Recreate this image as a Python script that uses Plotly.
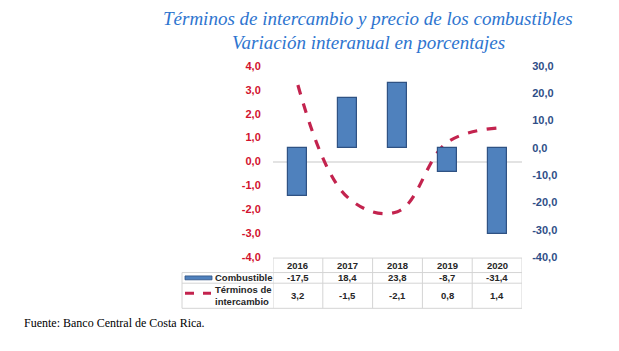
import plotly.graph_objects as go

# ---- data ----
years = ["2016", "2017", "2018", "2019", "2020"]
combustible = [-17.5, 18.4, 23.8, -8.7, -31.4]
terminos = [3.2, -1.5, -2.1, 0.8, 1.4]
series_names = ["Combustible", "Términos de<br>intercambio"]
left_ticks = [-4, -3, -2, -1, 0, 1, 2, 3, 4]
right_ticks = [-40, -30, -20, -10, 0, 10, 20, 30]
title_lines = ["Términos de intercambio y precio de los combustibles",
               "Variación interanual en porcentajes"]
source = "Fuente: Banco Central de Costa Rica."

W, H = 619, 351


def px(x):
    return x / W


def py(y):
    return 1 - y / H


def fmt(v):
    return f"{v:.1f}".replace(".", ",")


BLUE = "#4F81BD"
RED = "#C3234E"
GRAY = "#D4D4D4"
TXT = "#262626"

fig = go.Figure()
fig.add_trace(go.Bar(x=years, y=combustible, yaxis="y2", width=0.38,
                     marker=dict(color=BLUE, line=dict(color="#2F5283", width=1.2)),
                     name="Combustible"))
fig.add_trace(go.Scatter(x=years, y=terminos, yaxis="y", mode="lines",
                         line=dict(color=RED, width=3.2, dash="dash",
                                   shape="spline", smoothing=1.1),
                         name="Términos de intercambio"))

annotations = []
shapes = []

# title
for i, t in enumerate(title_lines):
    annotations.append(dict(text=t, x=px(368), y=py(13 + 25 * i), xref="paper", yref="paper",
                            showarrow=False, xanchor="center", yanchor="middle",
                            font=dict(family="Liberation Serif", size=19, color="#2E75CF",
                                      style="italic")))

# footer
annotations.append(dict(text=source, x=px(22), y=py(328), xref="paper", yref="paper",
                        showarrow=False, xanchor="left", yanchor="middle",
                        font=dict(family="Liberation Serif", size=12, color="#000000")))

# table
tfont = dict(family="Liberation Sans", size=9.5, color=TXT, weight="bold")
y_top, y_h, y_r1, y_bot = 261, 276, 287, 313
for i, yr in enumerate(years):
    for txt, yy in ((yr, 268.5), (fmt(combustible[i]), 281.5), (fmt(terminos[i]), 300)):
        annotations.append(dict(text=txt, x=i, y=py(yy), xref="x", yref="paper",
                                showarrow=False, xanchor="center", yanchor="middle", font=tfont))
annotations.append(dict(text=series_names[0], x=px(213), y=py(281.5), xref="paper", yref="paper",
                        showarrow=False, xanchor="left", yanchor="middle", font=tfont))
annotations.append(dict(text=series_names[1], x=px(213), y=py(300), xref="paper", yref="paper",
                        showarrow=False, xanchor="left", yanchor="middle", align="left", font=tfont))

line_style = dict(color=GRAY, width=1)
# horizontal lines
shapes.append(dict(type="line", xref="x", yref="paper", x0=-0.5, x1=4.5, y0=py(y_top), y1=py(y_top), line=line_style))
for yy in (y_h, y_r1, y_bot):
    shapes.append(dict(type="line", xref="paper", yref="paper", x0=px(182), x1=px(522),
                       y0=py(yy), y1=py(yy), line=line_style))
# vertical lines
for k in range(len(years) + 1):
    shapes.append(dict(type="line", xref="x", yref="paper", x0=k - 0.5, x1=k - 0.5,
                       y0=py(y_top), y1=py(y_bot), line=line_style))
shapes.append(dict(type="line", xref="paper", yref="paper", x0=px(182), x1=px(182),
                   y0=py(y_h), y1=py(y_bot), line=line_style))
# legend keys
shapes.append(dict(type="rect", xref="paper", yref="paper", x0=px(185), x1=px(212),
                   y0=py(283.5), y1=py(279.5), fillcolor=BLUE,
                   line=dict(color="#2F5283", width=0.8)))
shapes.append(dict(type="line", xref="paper", yref="paper", x0=px(185), x1=px(211),
                   y0=py(297.5), y1=py(297.5), line=dict(color=RED, width=3, dash="dash")))

fig.update_layout(
    width=W, height=H,
    margin=dict(l=0, r=0, t=0, b=0),
    paper_bgcolor="white", plot_bgcolor="white",
    showlegend=False, bargap=0,
    xaxis=dict(domain=[px(273), px(522)], type="category", range=[-0.5, 4.5],
               showticklabels=False, showgrid=False, zeroline=False, showline=False, ticks=""),
    yaxis=dict(domain=[py(260), py(62)], range=[-4, 4], tickvals=left_ticks,
               ticktext=[fmt(v) for v in left_ticks], showgrid=False,
               zeroline=True, zerolinecolor="#E3E3E3", zerolinewidth=1.5,
               ticks="outside", ticklen=9, tickcolor="rgba(0,0,0,0)",
               tickfont=dict(family="Liberation Sans", size=11, color="#D2122E", weight="bold")),
    yaxis2=dict(overlaying="y", side="right", anchor="x", range=[-40, 30], tickvals=right_ticks,
                ticktext=[fmt(v) for v in right_ticks], showgrid=False, zeroline=False,
                ticks="outside", ticklen=7, tickcolor="rgba(0,0,0,0)",
                tickfont=dict(family="Liberation Sans", size=11, color="#2F4E87", weight="bold")),
    annotations=annotations,
    shapes=shapes,
)

fig.write_html("out.html")
